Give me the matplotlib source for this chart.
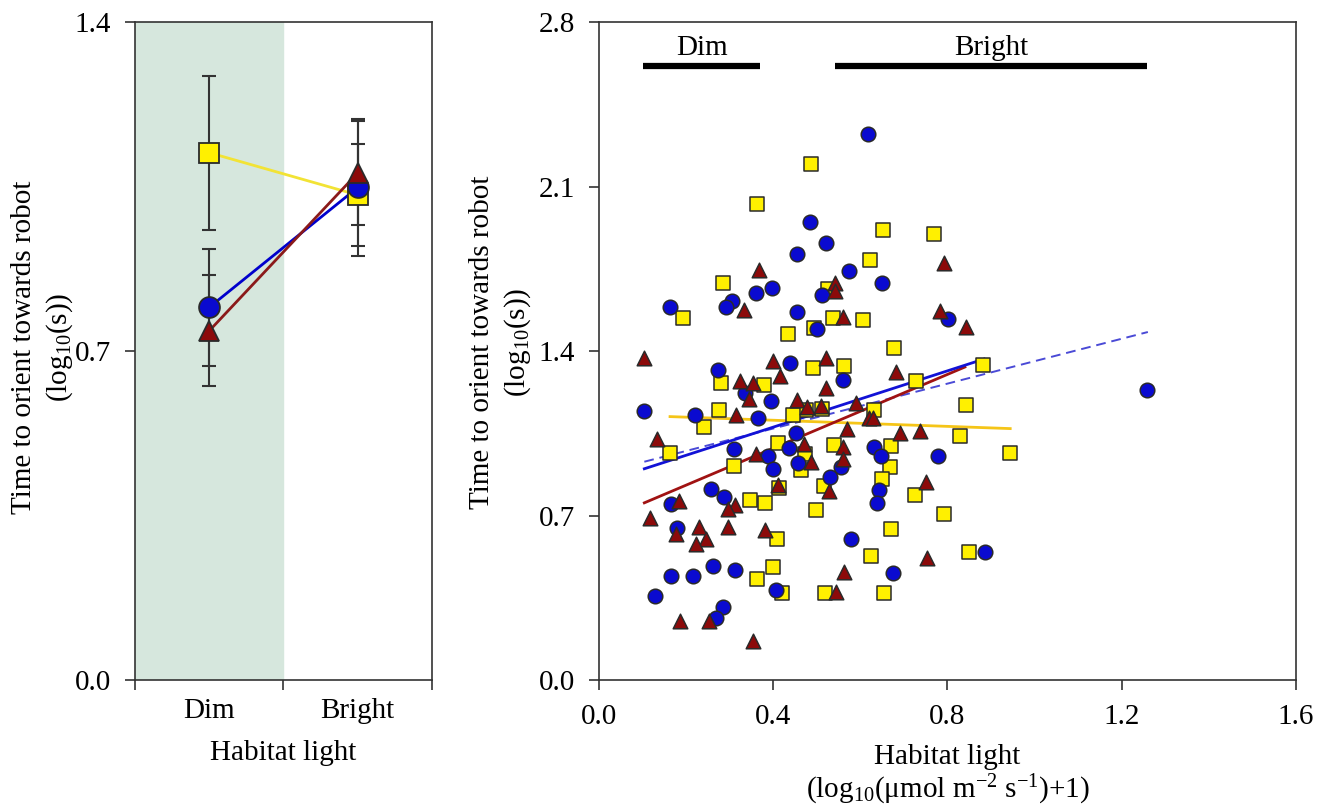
import numpy as np
import matplotlib
matplotlib.use("Agg")
import matplotlib.pyplot as plt

plt.rcParams['font.family'] = ['Liberation Serif', 'DejaVu Serif']
plt.rcParams['mathtext.fontset'] = 'custom'
plt.rcParams['mathtext.rm'] = 'Liberation Serif'
plt.rcParams['mathtext.it'] = 'Liberation Serif:italic'

# left panel: group means and errors
groups = ["Dim", "Bright"]
yellow_mean = [1.122, 1.032]
yellow_err = [0.164, 0.109]
blue_mean = [0.793, 1.048]
blue_err = [0.124, 0.146]
red_mean = [0.743, 1.079]
red_err = [0.118, 0.110]

# right panel: individual points (habitat light, time)
circ_x = [0.617, 0.485, 0.520, 0.455, 0.573, 0.650, 0.397, 0.361, 0.305, 0.292,
          0.162, 0.511, 0.455, 0.500, 0.802, 0.439, 0.274, 0.559, 0.335, 0.395,
          0.103, 0.220, 0.364, 0.452, 0.309, 0.387, 0.437, 0.632, 0.647, 0.778,
          0.457, 0.556, 0.400, 0.530, 0.642, 0.256, 0.287, 0.639, 0.165, 0.180,
          0.579, 0.262, 0.312, 0.165, 0.216, 0.675, 0.129, 0.407, 0.284, 0.268,
          1.259, 0.885]
circ_y = [2.322, 1.949, 1.860, 1.811, 1.739, 1.690, 1.670, 1.647, 1.612, 1.586,
          1.586, 1.638, 1.568, 1.494, 1.537, 1.349, 1.320, 1.275, 1.222, 1.186,
          1.143, 1.127, 1.117, 1.053, 0.985, 0.952, 0.986, 0.990, 0.953, 0.953,
          0.925, 0.906, 0.899, 0.863, 0.810, 0.811, 0.778, 0.753, 0.747, 0.647,
          0.600, 0.484, 0.469, 0.441, 0.441, 0.457, 0.359, 0.385, 0.310, 0.262,
          1.236, 0.546]

sq_x = [0.487, 0.363, 0.651, 0.770, 0.623, 0.285, 0.525, 0.193, 0.536, 0.606,
        0.433, 0.494, 0.677, 0.492, 0.563, 0.280, 0.379, 0.728, 0.475, 0.511,
        0.632, 0.275, 0.445, 0.241, 0.164, 0.411, 0.474, 0.539, 0.671, 0.669,
        0.311, 0.464, 0.649, 0.413, 0.517, 0.725, 0.346, 0.382, 0.498, 0.793,
        0.408, 0.671, 0.624, 0.399, 0.363, 0.419, 0.519, 0.654, 0.881, 0.842,
        0.829, 0.944, 0.849]
sq_y = [2.194, 2.026, 1.913, 1.899, 1.788, 1.689, 1.665, 1.539, 1.541, 1.534,
        1.472, 1.500, 1.414, 1.329, 1.335, 1.266, 1.255, 1.271, 1.148, 1.155,
        1.148, 1.151, 1.127, 1.077, 0.966, 1.009, 0.960, 1.002, 0.997, 0.908,
        0.909, 0.892, 0.855, 0.818, 0.827, 0.787, 0.765, 0.755, 0.723, 0.707,
        0.602, 0.644, 0.529, 0.481, 0.428, 0.370, 0.370, 0.370, 1.340, 1.169,
        1.039, 0.965, 0.543]

tri_x = [0.793, 0.368, 0.541, 0.541, 0.333, 0.561, 0.783, 0.104, 0.399, 0.521,
         0.682, 0.323, 0.354, 0.416, 0.520, 0.345, 0.454, 0.477, 0.510, 0.589,
         0.619, 0.630, 0.314, 0.133, 0.569, 0.691, 0.738, 0.360, 0.471, 0.561,
         0.559, 0.487, 0.751, 0.412, 0.529, 0.184, 0.312, 0.297, 0.116, 0.176,
         0.230, 0.297, 0.246, 0.223, 0.381, 0.754, 0.563, 0.543, 0.187, 0.253,
         0.353, 0.842]
tri_y = [1.774, 1.746, 1.691, 1.657, 1.575, 1.546, 1.572, 1.369, 1.356, 1.370,
         1.312, 1.273, 1.266, 1.292, 1.242, 1.195, 1.192, 1.160, 1.166, 1.181,
         1.117, 1.117, 1.128, 1.024, 1.070, 1.050, 1.060, 0.963, 1.006, 0.993,
         0.939, 0.928, 0.842, 0.832, 0.805, 0.761, 0.744, 0.726, 0.690, 0.622,
         0.653, 0.653, 0.600, 0.579, 0.640, 0.518, 0.458, 0.374, 0.253, 0.253,
         0.164, 1.501]

# fitted lines (end points)
fit_blue_x = [0.104, 0.884]
fit_blue_y = [0.899, 1.366]
fit_red_x = [0.104, 0.840]
fit_red_y = [0.754, 1.332]
fit_all_x = [0.104, 1.260]
fit_all_y = [0.929, 1.481]
fit_yel_x = [0.163, 0.944]
fit_yel_y = [1.121, 1.070]

# light ranges
dim_range = [0.101, 0.370]
bright_range = [0.542, 1.258]

YEL = '#FFF000'
BLU = '#0A0AD0'
RED = '#8C0A0A'
EDGE = '#2a2a2a'
FS = 21
YLAB = 'Time to orient towards robot\n(log$_{10}$(s))'

fig = plt.figure(figsize=(13.3, 8.11), dpi=100)
ax1 = fig.add_axes([0.1015, 0.1615, 0.2233, 0.8113])
ax2 = fig.add_axes([0.4504, 0.1615, 0.5240, 0.8113])

# ---- left panel
xg = np.array([0.5, 1.5])
ax1.axvspan(0, 1, color='#D6E7DD', zorder=0)
for m, e, c, lc, mk in [(yellow_mean, yellow_err, YEL, '#F2E335', 's'),
                        (blue_mean, blue_err, BLU, '#0000CC', 'o'),
                        (red_mean, red_err, RED, '#8B1A1A', '^')]:
    ax1.errorbar(xg, m, yerr=e, fmt='none', ecolor='#333333', elinewidth=1.5,
                 capsize=5, capthick=1.5, zorder=2)
    ax1.plot(xg, m, '-', color=lc, lw=2, zorder=3)
    ax1.plot(xg, m, mk, ms=15, mfc=c, mec=EDGE, mew=1.3, ls='none', zorder=4)

ax1.set_xlim(0, 2)
ax1.set_ylim(0, 1.4)
ax1.set_yticks([0, 0.7, 1.4])
ax1.set_yticklabels(['0.0', '0.7', '1.4'])
ax1.set_xticks([0, 1, 2])
ax1.set_xticklabels([])
for xi, g in zip(xg, groups):
    ax1.text(xi, -0.047, g, transform=ax1.get_xaxis_transform(), ha='center',
             va='center', fontsize=FS)
ax1.text(0.5, -0.111, 'Habitat light', transform=ax1.transAxes, ha='center',
         va='center', fontsize=FS)
ax1.text(-0.31, 0.506, YLAB, transform=ax1.transAxes, rotation=90, ha='center',
         va='center', fontsize=FS, linespacing=1.3)

# ---- right panel
ax2.plot(fit_all_x, fit_all_y, '--', color='#4A4AD6', lw=1.4, dashes=(5, 3), zorder=2)
ax2.plot(fit_yel_x, fit_yel_y, '-', color='#F5C518', lw=2, zorder=2)
ax2.plot(fit_red_x, fit_red_y, '-', color='#A01212', lw=2, zorder=2)
ax2.plot(fit_blue_x, fit_blue_y, '-', color='#1212D6', lw=2, zorder=2)

ax2.scatter(sq_x, sq_y, marker='s', s=95, c=YEL, edgecolors=EDGE, linewidths=1.1, zorder=3)
ax2.scatter(circ_x, circ_y, marker='o', s=110, c=BLU, edgecolors=EDGE, linewidths=1.1, zorder=3)
ax2.scatter(tri_x, tri_y, marker='^', s=110, c=RED, edgecolors=EDGE, linewidths=1.1, zorder=3)

ax2.plot(dim_range, [2.612, 2.612], color='black', lw=4.5, solid_capstyle='butt')
ax2.plot(bright_range, [2.612, 2.612], color='black', lw=4.5, solid_capstyle='butt')
ax2.text(np.mean(dim_range), 2.689, 'Dim', ha='center', va='center', fontsize=FS)
ax2.text(np.mean(bright_range), 2.689, 'Bright', ha='center', va='center', fontsize=FS)

ax2.set_xlim(0, 1.6)
ax2.set_ylim(0, 2.8)
ax2.set_xticks([0, 0.4, 0.8, 1.2, 1.6])
ax2.set_xticklabels(['0.0', '0.4', '0.8', '1.2', '1.6'])
ax2.set_yticks([0, 0.7, 1.4, 2.1, 2.8])
ax2.set_yticklabels(['0.0', '0.7', '1.4', '2.1', '2.8'])
ax2.text(0.5, -0.117, 'Habitat light', transform=ax2.transAxes, ha='center',
         va='center', fontsize=FS)
ax2.text(0.5, -0.167, '(log$_{10}$(\u03bcmol m$^{-2}$ s$^{-1}$)+1)', transform=ax2.transAxes,
         ha='center', va='center', fontsize=FS)
ax2.text(-0.1406, 0.514, YLAB, transform=ax2.transAxes, rotation=90, ha='center',
         va='center', fontsize=FS, linespacing=1.3)

for ax in (ax1, ax2):
    ax.tick_params(axis='both', which='major', direction='out', length=7, width=1.2,
                   labelsize=FS, color='#333333', pad=10)
    for sp in ax.spines.values():
        sp.set_color('#333333')
        sp.set_linewidth(1.2)

fig.savefig('out.png', dpi=100)
